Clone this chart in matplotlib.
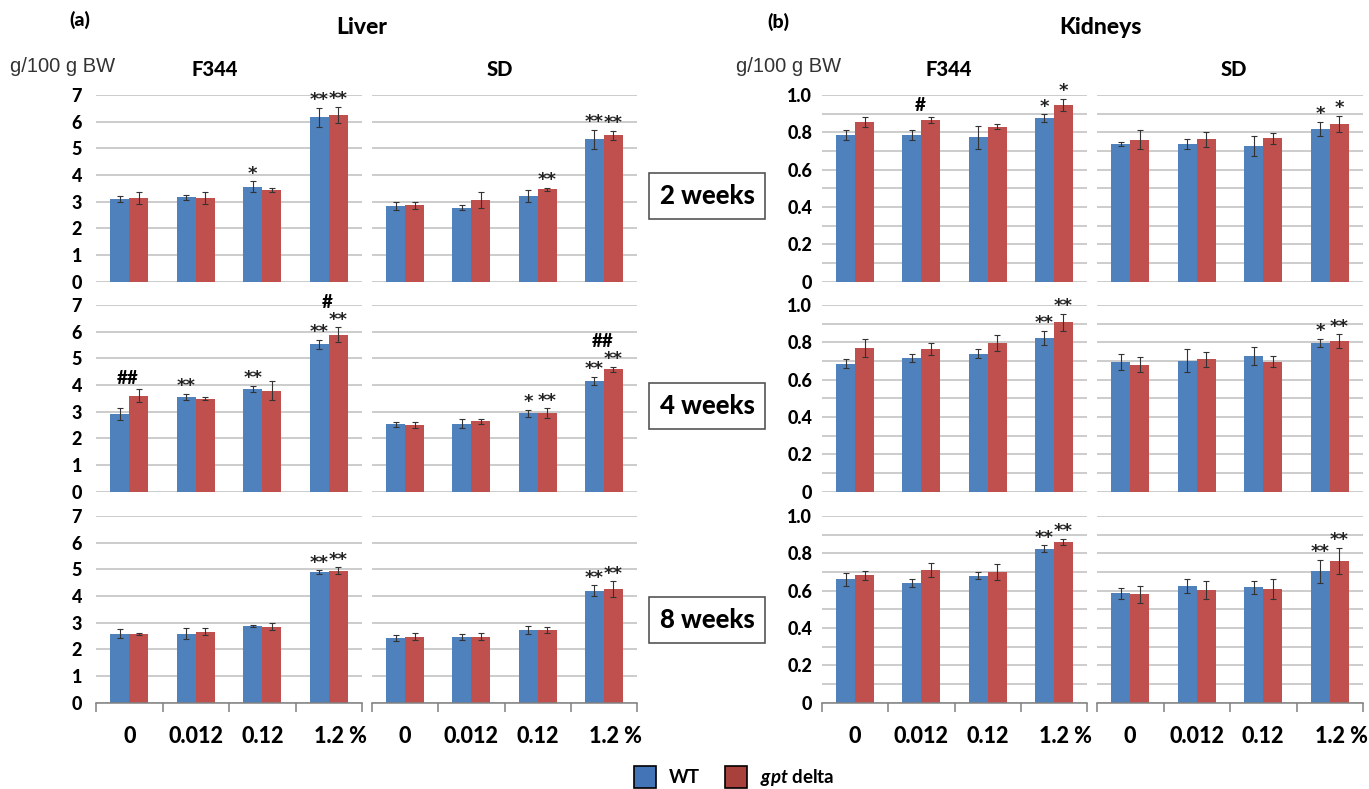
import numpy as np
import matplotlib
matplotlib.use('Agg')
import matplotlib.pyplot as plt
from matplotlib.patches import Patch
from matplotlib.transforms import ScaledTranslation

plt.rcParams['font.family'] = ['Lato', 'DejaVu Sans']
plt.rcParams['mathtext.fontset'] = 'custom'
plt.rcParams['mathtext.rm'] = 'Lato'
plt.rcParams['mathtext.bf'] = 'Lato:bold'
plt.rcParams['mathtext.it'] = 'Lato:italic'
plt.rcParams['mathtext.bfit'] = 'Lato:bold:italic'

BLUE = '#4F81BD'
RED = '#C0504D'
GRID = '#BFBFBF'
HEAVY = 'black'

doses = ['0', '0.012', '0.12', '1.2 %']
weeks = ['2 weeks', '4 weeks', '8 weeks']

# Liver weight, g/100 g BW. rows: 2, 4, 8 weeks; columns: doses
liver_f344_wt = [[3.09, 3.16, 3.56, 6.16], [2.91, 3.55, 3.85, 5.53], [2.59, 2.59, 2.88, 4.90]]
liver_f344_wt_sd = [[0.12, 0.08, 0.20, 0.36], [0.22, 0.12, 0.13, 0.17], [0.16, 0.22, 0.05, 0.06]]
liver_f344_gpt = [[3.15, 3.15, 3.44, 6.25], [3.60, 3.49, 3.79, 5.89], [2.59, 2.66, 2.85, 4.95]]
liver_f344_gpt_sd = [[0.22, 0.23, 0.07, 0.30], [0.24, 0.07, 0.36, 0.27], [0.04, 0.14, 0.13, 0.13]]
liver_sd_wt = [[2.84, 2.78, 3.21, 5.34], [2.53, 2.55, 2.94, 4.16], [2.43, 2.46, 2.73, 4.20]]
liver_sd_wt_sd = [[0.14, 0.10, 0.24, 0.36], [0.10, 0.16, 0.14, 0.15], [0.10, 0.11, 0.15, 0.20]]
liver_sd_gpt = [[2.86, 3.06, 3.46, 5.49], [2.49, 2.64, 2.94, 4.59], [2.48, 2.48, 2.73, 4.25]]
liver_sd_gpt_sd = [[0.14, 0.31, 0.05, 0.17], [0.12, 0.09, 0.18, 0.10], [0.12, 0.12, 0.12, 0.30]]

# Kidney weight, g/100 g BW
kidney_f344_wt = [[0.786, 0.786, 0.773, 0.876], [0.686, 0.718, 0.738, 0.825], [0.660, 0.641, 0.680, 0.825]]
kidney_f344_wt_sd = [[0.027, 0.027, 0.062, 0.021], [0.025, 0.021, 0.024, 0.038], [0.037, 0.023, 0.020, 0.017]]
kidney_f344_gpt = [[0.855, 0.868, 0.830, 0.946], [0.770, 0.764, 0.796, 0.907], [0.682, 0.710, 0.700, 0.862]]
kidney_f344_gpt_sd = [[0.029, 0.016, 0.014, 0.032], [0.046, 0.033, 0.045, 0.045], [0.025, 0.036, 0.041, 0.016]]
kidney_sd_wt = [[0.736, 0.738, 0.725, 0.820], [0.696, 0.702, 0.727, 0.796], [0.586, 0.625, 0.618, 0.705]]
kidney_sd_wt_sd = [[0.011, 0.025, 0.053, 0.037], [0.042, 0.062, 0.050, 0.023], [0.031, 0.036, 0.036, 0.062]]
kidney_sd_gpt = [[0.761, 0.762, 0.768, 0.845], [0.680, 0.710, 0.696, 0.807], [0.580, 0.605, 0.609, 0.760]]
kidney_sd_gpt_sd = [[0.052, 0.039, 0.030, 0.043], [0.039, 0.040, 0.030, 0.035], [0.047, 0.047, 0.055, 0.069]]

# significance marks (* vs control, # vs WT)
liver_f344_wt_sig = [['', '', '*', '**'], ['', '**', '**', '**'], ['', '', '', '**']]
liver_f344_gpt_sig = [['', '', '', '**'], ['', '', '', '**'], ['', '', '', '**']]
liver_f344_hash = [['', '', '', ''], ['##', '', '', '#'], ['', '', '', '']]
liver_sd_wt_sig = [['', '', '', '**'], ['', '', '*', '**'], ['', '', '', '**']]
liver_sd_gpt_sig = [['', '', '**', '**'], ['', '', '**', '**'], ['', '', '', '**']]
liver_sd_hash = [['', '', '', ''], ['', '', '', '##'], ['', '', '', '']]
kidney_f344_wt_sig = [['', '', '', '*'], ['', '', '', '**'], ['', '', '', '**']]
kidney_f344_gpt_sig = [['', '', '', '*'], ['', '', '', '**'], ['', '', '', '**']]
kidney_f344_hash = [['', '#', '', ''], ['', '', '', ''], ['', '', '', '']]
kidney_sd_wt_sig = [['', '', '', '*'], ['', '', '', '*'], ['', '', '', '**']]
kidney_sd_gpt_sig = [['', '', '', '*'], ['', '', '', '**'], ['', '', '', '**']]
kidney_sd_hash = [['', '', '', ''], ['', '', '', ''], ['', '', '', '']]

W, H = 1369, 789
fig = plt.figure(figsize=(W / 100, H / 100), dpi=100)


def px_axes(x0, x1, ytop, ybot):
    return fig.add_axes([x0 / W, 1 - ybot / H, (x1 - x0) / W, (ybot - ytop) / H])


def draw_panel(ax, wt, wt_sd, gpt, gpt_sd, wt_sig, gpt_sig, hashes, organ, show_ylabels, bottom_row):
    x = np.arange(len(doses))
    w = 0.286
    ax.bar(x - w / 2, wt, w, color=BLUE, zorder=2)
    ax.bar(x + w / 2, gpt, w, color=RED, zorder=2)
    ax.errorbar(x - w / 2, wt, yerr=wt_sd, fmt='none', ecolor='#333333',
                elinewidth=0.8, capsize=2.2, capthick=0.8, zorder=3)
    ax.errorbar(x + w / 2, gpt, yerr=gpt_sd, fmt='none', ecolor='#333333',
                elinewidth=0.8, capsize=2.2, capthick=0.8, zorder=3)

    star_kw = dict(textcoords='offset points', ha='center', va='bottom',
                   fontsize=13, family='DejaVu Sans', fontweight='bold',
                   color='#222222', annotation_clip=False)
    for i in x:
        top_wt = wt[i] + wt_sd[i]
        top_gpt = gpt[i] + gpt_sd[i]
        if wt_sig[i]:
            ax.annotate(wt_sig[i], (i - w / 2, top_wt), xytext=(0, -1), **star_kw)
        if gpt_sig[i]:
            ax.annotate(gpt_sig[i], (i + w / 2, top_gpt), xytext=(0, -1), **star_kw)
        if hashes[i]:
            off = 12 if (wt_sig[i] or gpt_sig[i]) else 2
            ax.annotate(hashes[i], (i, max(top_wt, top_gpt)), xytext=(-1, off),
                        textcoords='offset points', ha='center', va='bottom',
                        fontsize=13.5, fontweight=HEAVY, annotation_clip=False)

    ax.set_xlim(-0.5, 3.5)
    if organ == 'liver':
        ax.set_ylim(0, 7)
        ax.set_yticks(np.arange(0, 8, 1))
        ax.set_yticklabels([str(v) for v in range(8)], fontweight=HEAVY, fontsize=13)
    else:
        ax.set_ylim(0, 1.0)
        ax.set_yticks(np.arange(0, 1.01, 0.2))
        ax.set_yticks(np.arange(0.1, 1.0, 0.2), minor=True)
        ax.set_yticklabels(['0', '0.2', '0.4', '0.6', '0.8', '1.0'],
                           fontweight=HEAVY, fontsize=13)
    ax.set_axisbelow(True)
    ax.yaxis.grid(True, which='both', color=GRID, lw=1.1, zorder=0)
    ax.tick_params(axis='y', which='both', length=0, pad=10 if organ == 'liver' else 7,
                   labelleft=show_ylabels)
    for s in ['top', 'right', 'left']:
        ax.spines[s].set_visible(False)

    if bottom_row:
        ax.spines['bottom'].set_color('#808080')
        ax.spines['bottom'].set_linewidth(1.1)
        ax.set_xticks(np.arange(-0.5, 4, 1))
        ax.set_xticklabels([])
        ax.tick_params(axis='x', which='major', length=6.5, width=1.1,
                       color='#808080', direction='out')
        ax.set_xticks(x, doses, minor=True, fontweight=HEAVY, fontsize=15.5)
        ax.tick_params(axis='x', which='minor', length=0, pad=17)
        labs = ax.get_xticklabels(minor=True)
        labs[-1].set_transform(labs[-1].get_transform()
                               + ScaledTranslation(0.12, 0, fig.dpi_scale_trans))
    else:
        ax.spines['bottom'].set_visible(False)
        ax.set_xticks([])


rows = [(95, 281.7), (305, 491.7), (516, 702.7)]
cols = [
    (96, 362, 'liver', liver_f344_wt, liver_f344_wt_sd, liver_f344_gpt, liver_f344_gpt_sd,
     liver_f344_wt_sig, liver_f344_gpt_sig, liver_f344_hash, True),
    (372, 637, 'liver', liver_sd_wt, liver_sd_wt_sd, liver_sd_gpt, liver_sd_gpt_sd,
     liver_sd_wt_sig, liver_sd_gpt_sig, liver_sd_hash, False),
    (822, 1087, 'kidney', kidney_f344_wt, kidney_f344_wt_sd, kidney_f344_gpt, kidney_f344_gpt_sd,
     kidney_f344_wt_sig, kidney_f344_gpt_sig, kidney_f344_hash, True),
    (1097, 1363, 'kidney', kidney_sd_wt, kidney_sd_wt_sd, kidney_sd_gpt, kidney_sd_gpt_sd,
     kidney_sd_wt_sig, kidney_sd_gpt_sig, kidney_sd_hash, False),
]

for r, (ytop, ybot) in enumerate(rows):
    for (x0, x1, organ, wt, wt_sd, gpt, gpt_sd, wsig, gsig, hsh, showy) in cols:
        ax = px_axes(x0, x1, ytop, ybot)
        draw_panel(ax, wt[r], wt_sd[r], gpt[r], gpt_sd[r], wsig[r], gsig[r], hsh[r],
                   organ, showy, r == len(rows) - 1)


def ftext(x, y, s, **kw):
    fig.text(x / W, 1 - y / H, s, **kw)


# panel titles
ftext(80, 20, '(a)', ha='center', va='center', fontsize=14, fontweight=HEAVY)
ftext(362, 27, 'Liver', ha='center', va='center', fontsize=16.5, fontweight=HEAVY)
ftext(778, 22, '(b)', ha='center', va='center', fontsize=14, fontweight=HEAVY)
ftext(1100, 28, 'Kidneys', ha='center', va='center', fontsize=16.5, fontweight=HEAVY)
for xu in (10, 736):
    ftext(xu, 66, 'g/100 g BW', ha='left', va='center', fontsize=14.5,
          family='Liberation Sans', color='#333333')
for xs, s in [(215, 'F344'), (500, 'SD'), (949, 'F344'), (1234, 'SD')]:
    ftext(xs, 69, s, ha='center', va='center', fontsize=14.5, fontweight=HEAVY)

# week boxes
for yc, wk in zip([196, 406, 620], weeks):
    ftext(707, yc, wk, ha='center', va='center', fontsize=18.5, fontweight=HEAVY,
          bbox=dict(boxstyle='square,pad=0.42', fc='white', ec='#555555', lw=1.2))

# legend
handles = [Patch(fc='#4474B8', ec='black', lw=1.2), Patch(fc='#A8403C', ec='black', lw=1.2)]
fig.legend(handles, ['WT', r'$\mathbfit{gpt}$ delta'], loc='center',
           bbox_to_anchor=(734 / W, 1 - 777 / H), ncol=2, frameon=False,
           handlelength=1.2, handleheight=1.5, columnspacing=1.3, handletextpad=0.7,
           borderpad=0.2, prop=dict(weight='bold', size=13.5))

fig.savefig('out.png', dpi=100)
